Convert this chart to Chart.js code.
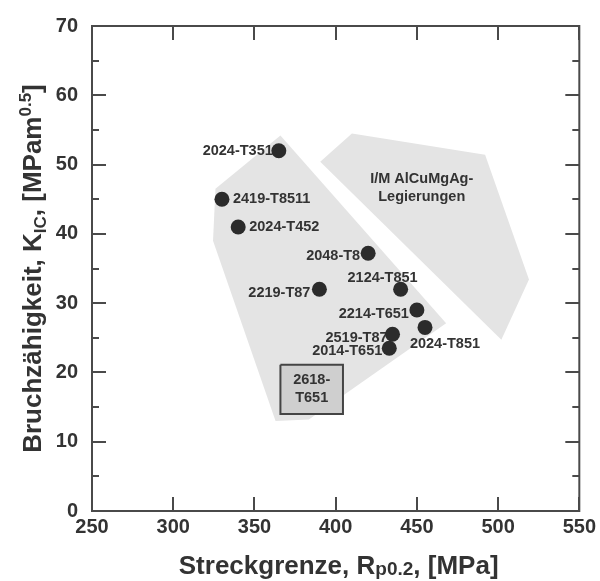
<!DOCTYPE html>
<html><head><meta charset="utf-8">
<script src="https://cdn.jsdelivr.net/npm/chart.js@4/dist/chart.umd.min.js"></script>
<style>html,body{margin:0;padding:0;background:#fff}canvas{display:block}</style>
</head><body>
<canvas id="c" width="600" height="581"></canvas>
<script>
// ---- data ----
const alloyNames = ['2024-T351','2419-T8511','2024-T452','2048-T8','2219-T87','2124-T851','2214-T651','2024-T851','2519-T87','2014-T651'];
const yieldStrength = [365, 330, 340, 420, 390, 440, 450, 455, 435, 433];
const toughness = [52, 45, 41, 37.2, 32, 32, 29, 26.5, 25.5, 23.5];
const xTickValues = [250, 300, 350, 400, 450, 500, 550];
const yTickValues = [0, 10, 20, 30, 40, 50, 60, 70];
const yMinorTickValues = [5, 15, 25, 35, 45, 55, 65];
const mainRegionX = [366, 326, 324.5, 363, 383.5, 468];
const mainRegionY = [54.2, 46.5, 39, 13, 13.2, 27.1];
const imRegionX = [390.5, 410, 492, 519, 502];
const imRegionY = [50.4, 54.5, 51.4, 33.4, 24.7];
const boxX = [366, 404.5, 404.5, 366];
const boxY = [21.1, 21.1, 14, 14];
const boxLabel = ['2618-', 'T651'];
const imLabel = ['I/M AlCuMgAg-', 'Legierungen'];
const imLabelAt = {x: 453, y: 46.6};

const FONT = '"Liberation Sans", Arial, Helvetica, sans-serif';
const TXT = '#333333';

function poly(xs, ys) {
  const pts = xs.map((x, i) => ({x: x, y: ys[i]}));
  pts.push({x: xs[0], y: ys[0]});
  return pts;
}

const placement = {
  '2024-T351': {align: 'right', dx: -6, dy: 0},
  '2419-T8511': {align: 'left', dx: 11, dy: 0},
  '2024-T452': {align: 'left', dx: 11, dy: 0},
  '2048-T8': {align: 'right', dx: -8, dy: 3},
  '2219-T87': {align: 'right', dx: -9, dy: 4},
  '2124-T851': {align: 'right', dx: 17, dy: -11},
  '2214-T651': {align: 'right', dx: -8, dy: 4},
  '2024-T851': {align: 'center', dx: 20, dy: 17},
  '2519-T87': {align: 'right', dx: -5, dy: 4},
  '2014-T651': {align: 'right', dx: -7, dy: 3}
};

function drawSegments(ctx, segs, x, y, align) {
  let total = 0;
  segs.forEach(s => { ctx.font = 'bold ' + s.size + 'px ' + FONT; s.w = ctx.measureText(s.t).width; total += s.w; });
  let cx = align === 'center' ? x - total / 2 : x;
  ctx.textAlign = 'left';
  ctx.textBaseline = 'alphabetic';
  segs.forEach(s => { ctx.font = 'bold ' + s.size + 'px ' + FONT; ctx.fillText(s.t, cx, y + (s.dy || 0)); cx += s.w; });
}

const decor = {
  id: 'decor',
  beforeDatasetDraw(chart, args) {
    if (args.index !== 0) return;
    const ctx = chart.ctx;
    const meta = chart.getDatasetMeta(0);
    ctx.save();
    ctx.fillStyle = TXT;
    ctx.font = 'bold 14.5px ' + FONT;
    ctx.textBaseline = 'middle';
    meta.data.forEach((el, i) => {
      const name = alloyNames[i];
      const p = placement[name];
      ctx.textAlign = p.align;
      ctx.fillText(name, el.x + p.dx, el.y + p.dy);
    });
    const xs = chart.scales.x, ys = chart.scales.y;
    ctx.textAlign = 'center';
    const ix = xs.getPixelForValue(imLabelAt.x), iy = ys.getPixelForValue(imLabelAt.y);
    ctx.fillText(imLabel[0], ix, iy - 9);
    ctx.fillText(imLabel[1], ix, iy + 9);
    const bx = xs.getPixelForValue((boxX[0] + boxX[1]) / 2), by = ys.getPixelForValue((boxY[0] + boxY[2]) / 2);
    ctx.fillText(boxLabel[0], bx, by - 9);
    ctx.fillText(boxLabel[1], bx, by + 9);
    ctx.restore();
  },
  afterDraw(chart) {
    const ctx = chart.ctx, a = chart.chartArea;
    const xs = chart.scales.x, ys = chart.scales.y;
    ctx.save();
    ctx.strokeStyle = '#4a4a4a';
    ctx.lineWidth = 2;
    ctx.strokeRect(a.left, a.top, a.right - a.left, a.bottom - a.top);
    ctx.beginPath();
    xTickValues.forEach(v => {
      const px = Math.round(xs.getPixelForValue(v));
      ctx.moveTo(px, a.bottom); ctx.lineTo(px, a.bottom - 14);
      ctx.moveTo(px, a.top); ctx.lineTo(px, a.top + 14);
    });
    yTickValues.forEach(v => {
      const py = Math.round(ys.getPixelForValue(v));
      ctx.moveTo(a.left, py); ctx.lineTo(a.left + 14, py);
      ctx.moveTo(a.right, py); ctx.lineTo(a.right - 14, py);
    });
    yMinorTickValues.forEach(v => {
      const py = Math.round(ys.getPixelForValue(v));
      ctx.moveTo(a.left, py); ctx.lineTo(a.left + 7, py);
      ctx.moveTo(a.right, py); ctx.lineTo(a.right - 7, py);
    });
    ctx.stroke();
    ctx.fillStyle = TXT;
    drawSegments(ctx, [
      {t: 'Streckgrenze, R', size: 26},
      {t: 'p0.2', size: 19, dy: 1},
      {t: ', [MPa]', size: 26}
    ], (a.left + a.right) / 2 + 3, 574, 'center');
    ctx.translate(41, (a.top + a.bottom) / 2);
    ctx.rotate(-Math.PI / 2);
    drawSegments(ctx, [
      {t: 'Bruchzähigkeit, K', size: 26},
      {t: 'IC', size: 17, dy: 5},
      {t: ', [MPam', size: 26},
      {t: '0.5', size: 17, dy: -10},
      {t: ']', size: 26}
    ], 0, 0, 'center');
    ctx.restore();
  }
};

new Chart(document.getElementById('c'), {
  type: 'scatter',
  data: {
    datasets: [
      {
        label: 'Legierungen',
        data: yieldStrength.map((x, i) => ({x: x, y: toughness[i]})),
        backgroundColor: '#2b2b2b',
        borderWidth: 0,
        pointRadius: 7.5,
        pointHoverRadius: 7.5,
        order: 0
      },
      {
        type: 'line',
        label: '2618-T651',
        data: poly(boxX, boxY),
        borderColor: '#444444',
        borderWidth: 2,
        backgroundColor: '#cfcfcf',
        fill: 'shape',
        pointRadius: 0,
        tension: 0,
        order: 1
      },
      {
        type: 'line',
        label: 'PM region',
        data: poly(mainRegionX, mainRegionY),
        borderWidth: 0,
        borderColor: 'rgba(0,0,0,0)',
        backgroundColor: '#e4e4e4',
        fill: 'shape',
        pointRadius: 0,
        tension: 0,
        order: 2
      },
      {
        type: 'line',
        label: 'I/M AlCuMgAg',
        data: poly(imRegionX, imRegionY),
        borderWidth: 0,
        borderColor: 'rgba(0,0,0,0)',
        backgroundColor: '#e4e4e4',
        fill: 'shape',
        pointRadius: 0,
        tension: 0,
        order: 2
      }
    ]
  },
  options: {
    responsive: false,
    animation: false,
    events: [],
    layout: {padding: {left: 0, top: 17, right: 18, bottom: 0}},
    plugins: {legend: {display: false}, tooltip: {enabled: false}},
    scales: {
      x: {
        type: 'linear', min: 250, max: 550,
        afterBuildTicks: s => { s.ticks = xTickValues.map(v => ({value: v})); },
        afterFit: s => { s.height = 70; },
        grid: {display: false, drawTicks: false},
        border: {display: false},
        ticks: {font: {family: FONT, size: 20, weight: 'bold'}, color: TXT, padding: 4, maxRotation: 0}
      },
      y: {
        type: 'linear', min: 0, max: 70,
        afterBuildTicks: s => { s.ticks = yTickValues.map(v => ({value: v})); },
        afterFit: s => { s.width = 92; },
        grid: {display: false, drawTicks: false},
        border: {display: false},
        ticks: {font: {family: FONT, size: 20, weight: 'bold'}, color: TXT, padding: 14}
      }
    }
  },
  plugins: [decor]
});
</script>
</body></html>
